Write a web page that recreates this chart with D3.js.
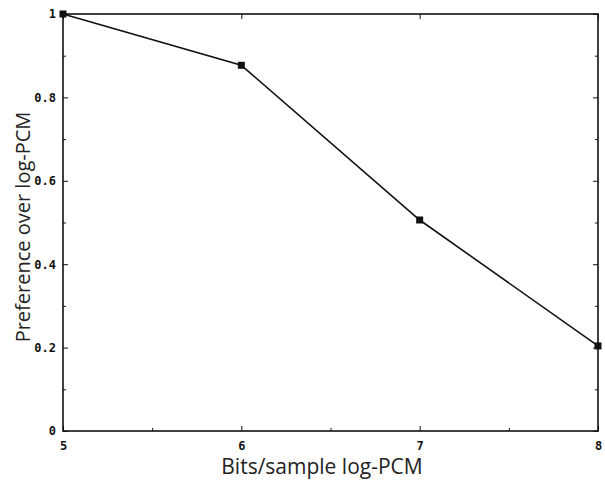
<!DOCTYPE html>
<html>
<head>
<meta charset="utf-8">
<script src="https://cdn.jsdelivr.net/npm/d3@7"></script>
<style>
  body { margin: 0; background: #fff; }
  .tick text { font-family: "DejaVu Sans Mono", monospace; font-weight: bold; font-size: 12px; fill: #111; }
  .lab { font-family: "Open Sans", "DejaVu Sans", sans-serif; fill: #222; }
</style>
</head>
<body>
<svg id="chart" width="605" height="484"></svg>
<script>
// data
var bits = [5, 6, 7, 8];
var preference = [1.0, 0.877, 0.506, 0.204];
var xTicks = [5, 6, 7, 8];
var yTicks = [0, 0.2, 0.4, 0.6, 0.8, 1];
var xMinor = [5.5, 6.5, 7.5];
var yMinor = [0.1, 0.3, 0.5, 0.7, 0.9];

var margin = { top: 14, right: 7, bottom: 53, left: 63 },
    w = 605 - margin.left - margin.right,
    h = 484 - margin.top - margin.bottom;

var svg = d3.select("#chart");
var g = svg.append("g").attr("transform", "translate(" + margin.left + "," + margin.top + ")");

var x = d3.scaleLinear().domain([5, 8]).range([0, w]);
var y = d3.scaleLinear().domain([0, 1]).range([h, 0]);

// frame
g.append("rect")
  .attr("width", w).attr("height", h)
  .attr("fill", "none").attr("stroke", "#111").attr("stroke-width", 1.6);

function clean(a) { a.select(".domain").remove(); a.selectAll("line").attr("stroke", "#111"); }

// ticks point inward
var xAxis = d3.axisBottom(x).tickValues(xTicks).tickSize(-5).tickPadding(10).tickFormat(d3.format("d"));
var yAxis = d3.axisLeft(y).tickValues(yTicks).tickSize(-5).tickPadding(7)
  .tickFormat(function(d) { return d === 0 || d === 1 ? d : d3.format(".1f")(d); });

g.append("g").attr("transform", "translate(0," + h + ")").call(xAxis).call(clean);
g.append("g").call(yAxis).call(clean);

// right side and top ticks, plus minor ticks
g.append("g").attr("transform", "translate(" + w + ",0)")
  .call(d3.axisRight(y).tickValues(yTicks).tickSize(-5).tickFormat("")).call(clean);
g.append("g")
  .call(d3.axisTop(x).tickValues(xTicks).tickSize(-5).tickFormat("")).call(clean);

g.append("g").attr("transform", "translate(0," + h + ")")
  .call(d3.axisBottom(x).tickValues(xMinor).tickSize(-3).tickFormat("")).call(clean);
g.append("g")
  .call(d3.axisLeft(y).tickValues(yMinor).tickSize(-3).tickFormat("")).call(clean);
g.append("g").attr("transform", "translate(" + w + ",0)")
  .call(d3.axisRight(y).tickValues(yMinor).tickSize(-3).tickFormat("")).call(clean);

// line
var line = d3.line()
  .x(function(d, i) { return x(bits[i]); })
  .y(function(d) { return y(d); });

g.append("path")
  .datum(preference)
  .attr("d", line)
  .attr("fill", "none").attr("stroke", "#111").attr("stroke-width", 1.6);

g.selectAll("rect.pt")
  .data(preference)
  .enter().append("rect")
  .attr("class", "pt")
  .attr("x", function(d, i) { return x(bits[i]) - 3.5; })
  .attr("y", function(d) { return y(d) - 3.5; })
  .attr("width", 7).attr("height", 7)
  .attr("fill", "#111");

// axis titles
svg.append("text").attr("class", "lab")
  .attr("x", 322).attr("y", 474)
  .attr("text-anchor", "middle")
  .style("font-size", "21px")
  .text("Bits/sample log-PCM");

svg.append("text").attr("class", "lab")
  .attr("transform", "translate(30,227) rotate(-90)")
  .attr("text-anchor", "middle")
  .style("font-size", "20px")
  .text("Preference over log-PCM");
</script>
</body>
</html>
